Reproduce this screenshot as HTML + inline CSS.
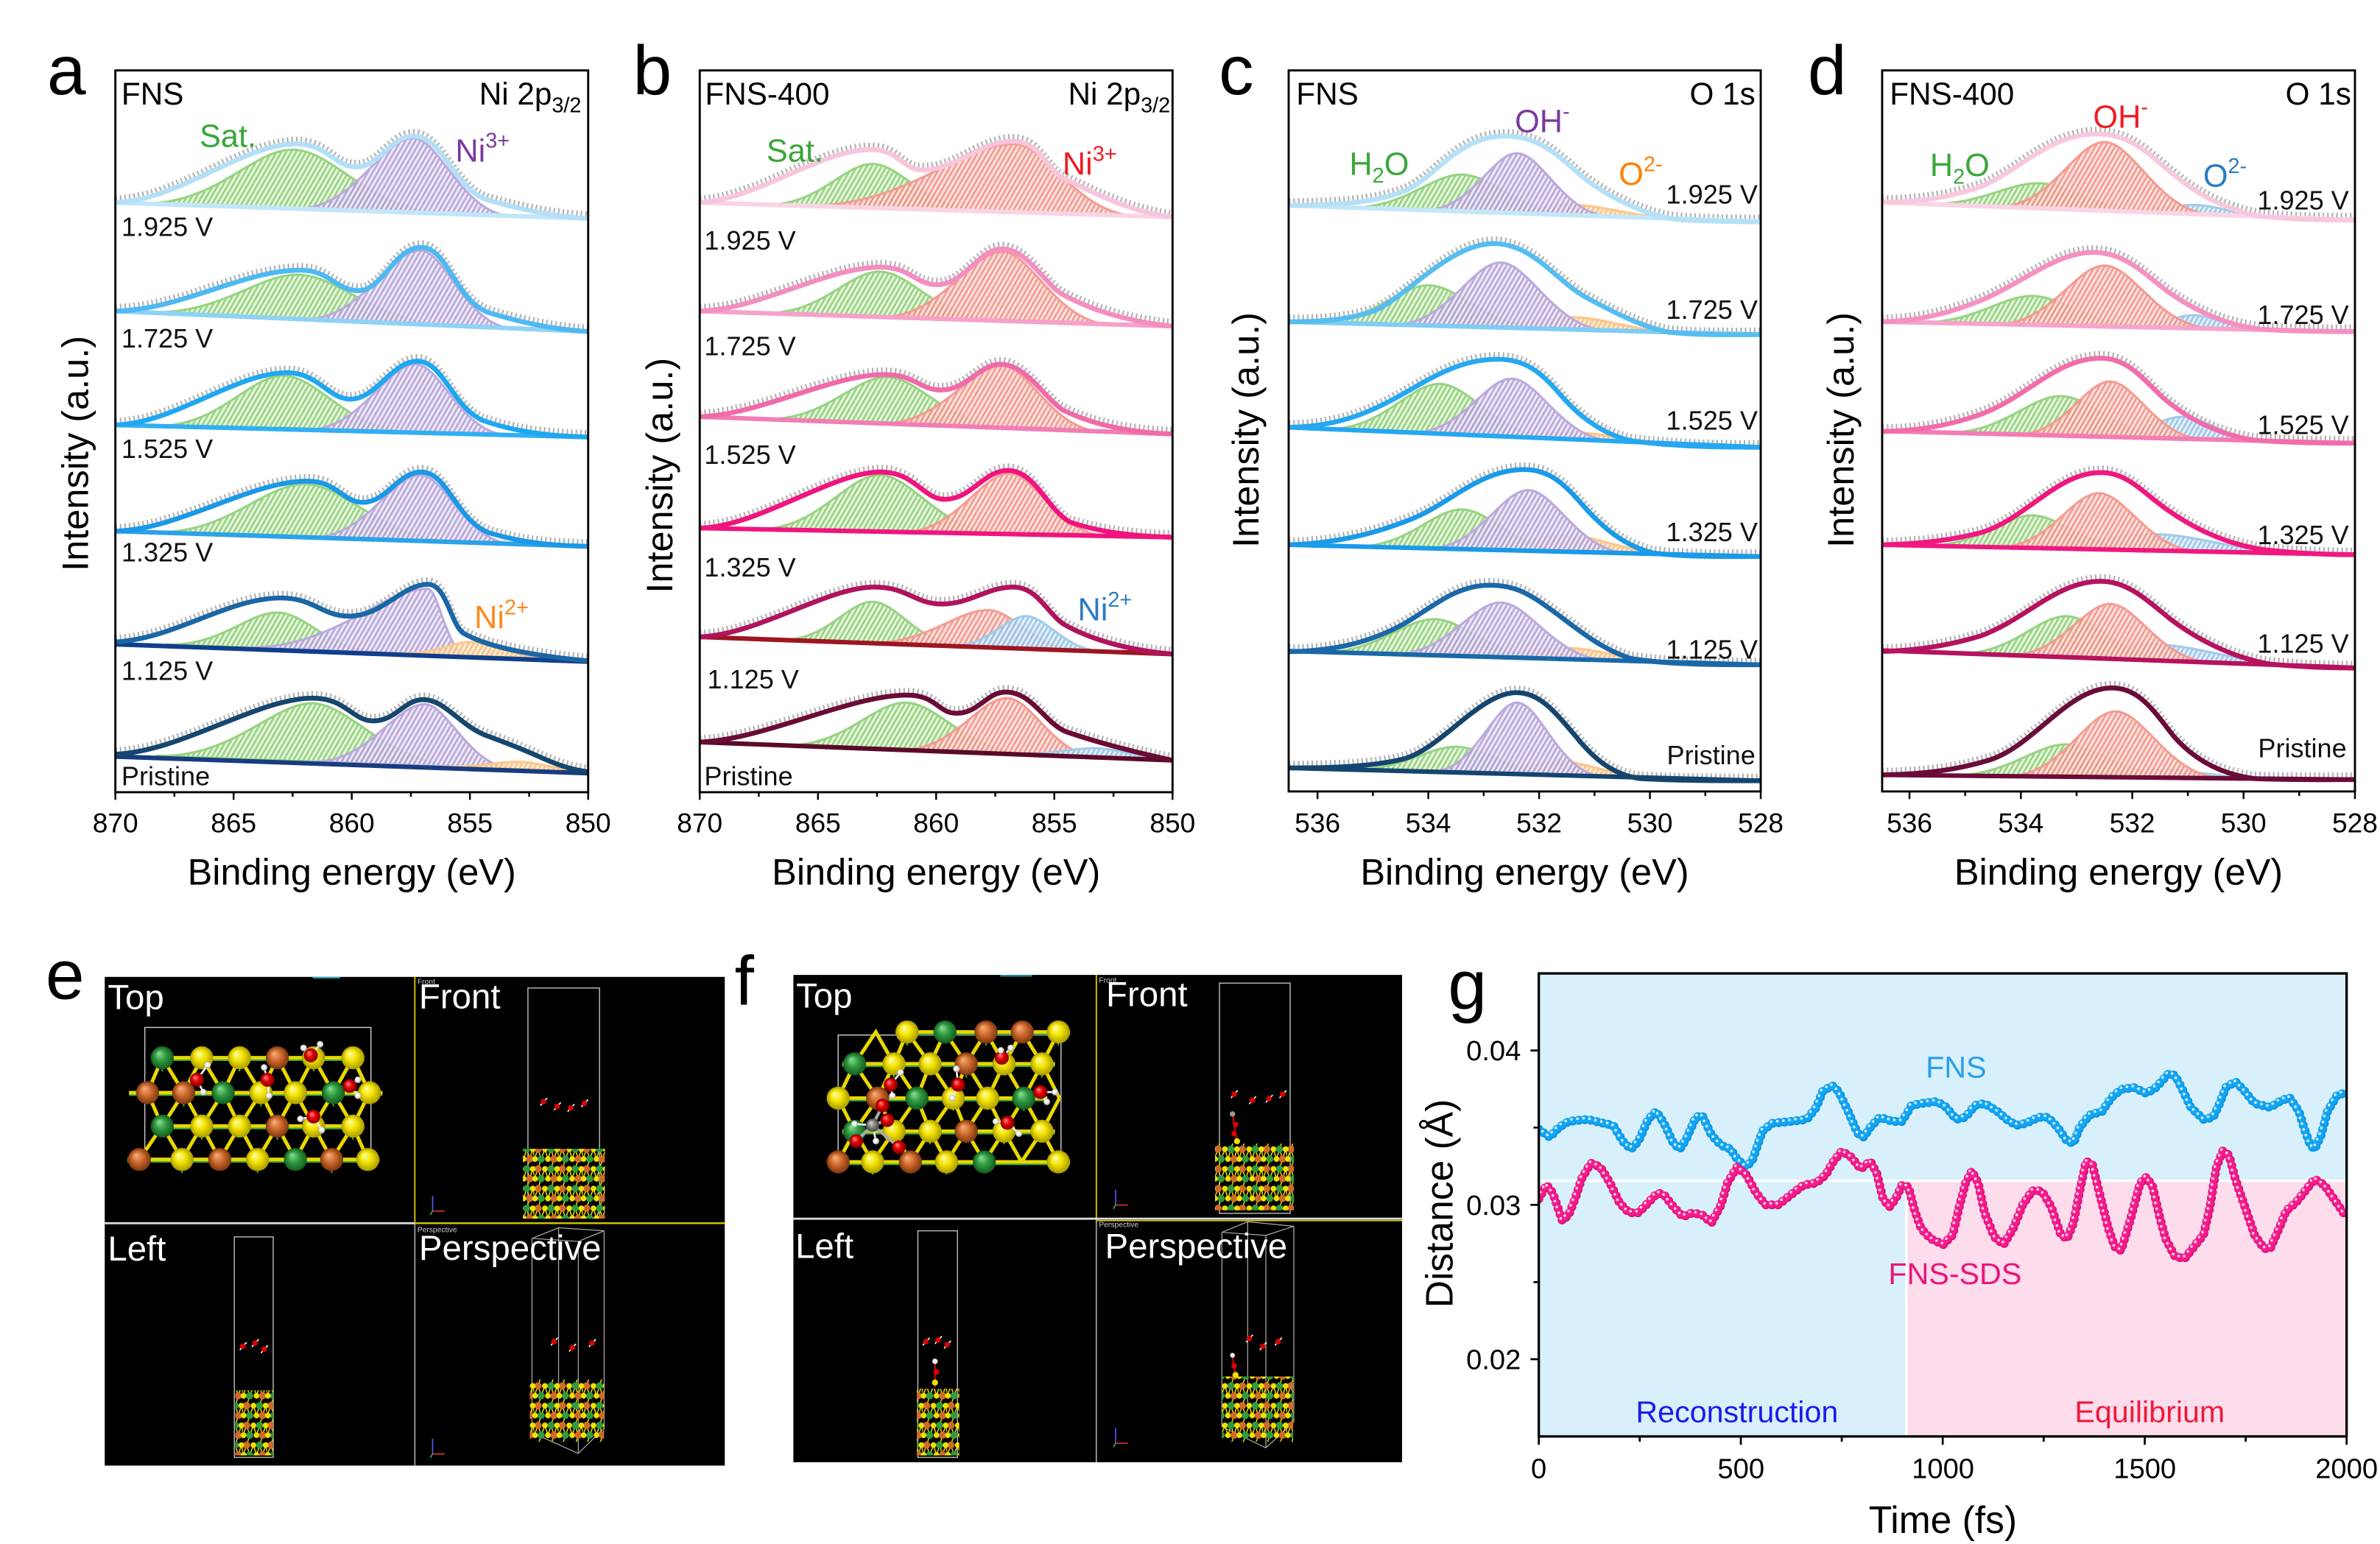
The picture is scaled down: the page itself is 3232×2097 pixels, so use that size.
<!DOCTYPE html>
<html><head><meta charset="utf-8"><title>Figure</title>
<style>
html,body{margin:0;padding:0;background:#fff;overflow:hidden}
svg{display:block}
text{font-family:"Liberation Sans",Arial,sans-serif}
.cg{fill:url(#hG);stroke:#98d383;stroke-width:1.5;fill-opacity:.9}
.cp{fill:url(#hP);stroke:#bcaadc;stroke-width:1.5;fill-opacity:.9}
.co{fill:url(#hO);stroke:#fcc68c;stroke-width:1.5;fill-opacity:.9}
.cr{fill:url(#hR);stroke:#f59b91;stroke-width:1.5;fill-opacity:.9}
.cb{fill:url(#hB);stroke:#a3cbe9;stroke-width:1.5;fill-opacity:.9}
.env{fill:none;stroke-width:3.2;stroke-linejoin:round;stroke-linecap:round}
.dt{fill:none;stroke:#b4b4b4;stroke-width:4.6;stroke-dasharray:1.1 1.9}
.bl{stroke-width:3;stroke-linecap:round}
.c1{fill:none;stroke-linecap:round;stroke-dasharray:0 4;stroke-width:5.9}
.c2{fill:none;stroke-linecap:round;stroke-dasharray:0 4;stroke-width:4.9}
.c3{fill:none;stroke-linecap:round;stroke-dasharray:0 4;stroke-width:1.7}
</style></head><body>
<svg id="fig" xmlns="http://www.w3.org/2000/svg" width="3232" height="2097" viewBox="0 0 1568 1017.37" preserveAspectRatio="none">
<defs>
<pattern id="hG" patternUnits="userSpaceOnUse" width="2.8" height="2.8" patternTransform="rotate(30)"><rect width="2.8" height="2.8" fill="#e4f4da"/><rect width="1.3" height="2.8" fill="#8bcf73"/></pattern>
<pattern id="hP" patternUnits="userSpaceOnUse" width="2.8" height="2.8" patternTransform="rotate(30)"><rect width="2.8" height="2.8" fill="#ece6f5"/><rect width="1.3" height="2.8" fill="#b19ed7"/></pattern>
<pattern id="hO" patternUnits="userSpaceOnUse" width="2.8" height="2.8" patternTransform="rotate(30)"><rect width="2.8" height="2.8" fill="#fdebd6"/><rect width="1.3" height="2.8" fill="#fbba74"/></pattern>
<pattern id="hR" patternUnits="userSpaceOnUse" width="2.8" height="2.8" patternTransform="rotate(30)"><rect width="2.8" height="2.8" fill="#fde0dc"/><rect width="1.3" height="2.8" fill="#f28f84"/></pattern>
<pattern id="hB" patternUnits="userSpaceOnUse" width="2.8" height="2.8" patternTransform="rotate(30)"><rect width="2.8" height="2.8" fill="#e0eef8"/><rect width="1.3" height="2.8" fill="#94c2e5"/></pattern>
<pattern id="slab" patternUnits="userSpaceOnUse" width="16" height="13">
<polyline points="0,9.7 2.5,3.2 4.5,9.7 7,3.2 9,9.7 11,3.2 13,9.7 15,3.2 16.5,9.7" fill="none" stroke="#e0d000" stroke-width="0.8"/>
<path d="M4.5,9.7L2.5,16.2M13,9.7L11,16.2M2.5,3.2L4.5,-3.3M11,3.2L13,-3.3" stroke="#e0d000" stroke-width="0.8"/>
<circle cx="2.5" cy="3.2" r="2.4" fill="#cf6a2c"/><circle cx="7" cy="3.2" r="1.9" fill="#f0e000"/><circle cx="11" cy="3.2" r="2.4" fill="#2f9a40"/><circle cx="15" cy="3.2" r="1.9" fill="#f0e000"/><circle cx="-1" cy="3.2" r="1.9" fill="#f0e000"/>
<circle cx="4.5" cy="9.7" r="2.4" fill="#2f9a40"/><circle cx="9" cy="9.7" r="1.9" fill="#f0e000"/><circle cx="13" cy="9.7" r="2.4" fill="#cf6a2c"/><circle cx="0.5" cy="9.7" r="1.9" fill="#f0e000"/><circle cx="16.5" cy="9.7" r="1.9" fill="#f0e000"/>
</pattern>
<radialGradient id="aG" cx="50%" cy="50%" r="50%" fx="35%" fy="30%"><stop offset="0" stop-color="#8ee09a"/><stop offset=".5" stop-color="#2f9a40"/><stop offset="1" stop-color="#145a20"/></radialGradient>
<radialGradient id="aO" cx="50%" cy="50%" r="50%" fx="35%" fy="30%"><stop offset="0" stop-color="#f6b080"/><stop offset=".5" stop-color="#cf6a2c"/><stop offset="1" stop-color="#7a3510"/></radialGradient>
<radialGradient id="aY" cx="50%" cy="50%" r="50%" fx="35%" fy="30%"><stop offset="0" stop-color="#ffffb0"/><stop offset=".5" stop-color="#f2e200"/><stop offset="1" stop-color="#a89a00"/></radialGradient>
<radialGradient id="aR" cx="50%" cy="50%" r="50%" fx="35%" fy="30%"><stop offset="0" stop-color="#ff9090"/><stop offset=".5" stop-color="#e60000"/><stop offset="1" stop-color="#800000"/></radialGradient>
<radialGradient id="aW" cx="50%" cy="50%" r="50%" fx="35%" fy="30%"><stop offset="0" stop-color="#ffffff"/><stop offset=".6" stop-color="#eeeeee"/><stop offset="1" stop-color="#a0a0a0"/></radialGradient>
<radialGradient id="aC" cx="50%" cy="50%" r="50%" fx="35%" fy="30%"><stop offset="0" stop-color="#dddddd"/><stop offset=".5" stop-color="#888888"/><stop offset="1" stop-color="#444444"/></radialGradient>
<clipPath id="cA"><rect x="76" y="46.4" width="311.5" height="475.6"/></clipPath>
<clipPath id="cB"><rect x="461" y="46.4" width="311.5" height="475.6"/></clipPath>
<clipPath id="cC"><rect x="849" y="46.4" width="311" height="475.1"/></clipPath>
<clipPath id="cD"><rect x="1240" y="46.4" width="311.5" height="475.1"/></clipPath>
<clipPath id="cG"><rect x="1013.8" y="641.4" width="532.2" height="305.1"/></clipPath>

<path id="a1" d="M76,133.5 C118,132 160,94.8 195,94.8 C216,94.8 220,110 235,110 C250,110 257,89.7 272.5,89.7 C292,89.7 300,126 322,132 C345,138.5 365,142.5 387.5,144"/>
<path id="a2" d="M76,205 C120,204 160,178 198,178 C217,178 222,191.5 236,191.5 C252,191.5 260,163 277.5,163 C295,163 300,198 322,206 C345,213 365,217 387.5,218.5"/>
<path id="a3" d="M76,280 C115,279 155,245.6 189,245.6 C210,245.6 216,263 231,263 C248,263 258,238 275,238 C292,238 298,268 318,277 C340,285 365,287.5 387.5,288"/>
<path id="a4" d="M76,350 C118,349 165,317 202.5,317 C222,317 226,331 239,331 C255,331 262,311 277.5,311 C295,311 300,342 322,351 C345,358 365,359.5 387.5,360"/>
<path id="a5" d="M76,423 C115,421 150,394 185,394 C207,394 212,406 230,406 C252,406 265,385 282,385 C294,385 297,411 305,417 C320,426 350,432 387.5,435.5"/>
<path id="a6" d="M76,497 C120,495 170,460 206,460 C228,460 232,475 246,475 C261,475 266,461 279,461 C293,461 303,478 320,484.5 C335,490 345,494 355,498.5 C365,503 375,507 387.5,508.6"/>
<path id="b1" d="M461,133.5 C500,131 540,98.6 574,98.6 C592,98.6 595,112 607.5,112 C630,112 645,93 667.5,93 C685,93 690,112 700,117 C718,126 745,140 772.5,143"/>
<path id="b2" d="M461,205 C500,204 545,176 580,176 C600,176 603,187.6 617.5,187.6 C635,187.6 645,164 660,164 C677,164 688,187 700,194 C720,205 745,212 772.5,215"/>
<path id="b3" d="M461,274.6 C500,273.5 548,246.8 582.5,246.8 C603,246.8 606,257 620,257 C637,257 645,240 659,240 C676,240 688,262 700,270 C720,280 745,285 772.5,286"/>
<path id="b4" d="M461,348 C500,347 548,311 580,311 C603,311 608,329 622.5,329 C640,329 648,310 664,310 C682,310 690,336 705,344 C725,351 750,353.5 772.5,354"/>
<path id="b5" d="M461,419.7 C500,418 545,386.8 576,386.8 C598,386.8 603,398 620,398 C640,398 650,386.8 667.5,386.8 C684,386.8 690,405 702,412 C722,423 748,429 772.5,431"/>
<path id="b6" d="M461,489 C505,487 560,458 597.5,458 C617,458 618,470 630,470 C645,470 650,456 662.5,456 C680,456 688,476 702,482 C722,489 745,495 772.5,501"/>
<path id="c1" d="M849,135.4 C880,135 905,134 925,126 C945,118 960,89.7 991.5,89.7 C1020,89.7 1032,110 1050,122 C1068,134 1090,144 1110,145 C1130,146 1145,146 1160,146.2"/>
<path id="c2" d="M849,212 C875,212 890,210 905,205 C925,197 955,160.5 984,160.5 C1010,160.5 1025,185 1045,196 C1062,205 1080,215 1100,219 C1120,221 1140,220.5 1160,220.5"/>
<path id="c3" d="M849,281.6 C880,281 900,273 920,262 C940,251 960,236.7 986.5,236.7 C1005,236.7 1015,245 1028,260 C1040,274 1055,286 1075,290.5 C1100,294 1130,294.7 1160,294.7"/>
<path id="c4" d="M849,359 C880,358 905,352 930,342 C955,332 975,309.4 1004,309.4 C1020,309.4 1030,318 1042,332 C1055,347 1070,360 1090,364.5 C1110,367 1135,366.7 1160,366.7"/>
<path id="c5" d="M849,429.4 C875,429 895,425 915,416 C940,405 955,385.6 981.5,385.6 C1000,385.6 1010,393 1025,404 C1040,415 1055,428 1075,434 C1100,438 1130,438 1160,438"/>
<path id="c6" d="M849,506 C880,506 905,505 925,500 C950,493 975,456.4 999,456.4 C1015,456.4 1025,470 1038,485 C1050,500 1062,510 1080,513 C1105,514.5 1135,514.4 1160,514.4"/>
<path id="d1" d="M1240,133.4 C1265,133 1285,130 1305,123 C1330,113 1350,88.2 1381.5,88.2 C1405,88.2 1418,104 1432,115 C1448,128 1465,138 1490,142.5 C1515,145 1535,145 1551.5,145"/>
<path id="d2" d="M1240,212 C1265,211.5 1285,206 1305,198 C1335,185 1355,166.3 1379,166.3 C1400,166.3 1412,180 1428,192 C1445,204 1465,214 1490,217 C1515,218.5 1535,218.5 1551.5,218.5"/>
<path id="d3" d="M1240,284.3 C1265,284 1285,280 1305,273 C1335,262 1355,236 1384,236 C1402,236 1412,250 1425,262 C1440,275 1460,286 1485,290 C1510,292 1535,292 1551.5,292"/>
<path id="d4" d="M1240,359 C1265,358.5 1285,356 1305,351 C1335,342 1355,311.4 1384,311.4 C1402,311.4 1412,325 1428,336 C1445,348 1465,358 1490,362 C1515,365 1535,365.5 1551.5,365.5"/>
<path id="d5" d="M1240,429.3 C1265,428.5 1285,425 1305,419 C1335,408 1355,383 1384,383 C1402,383 1415,396 1430,408 C1447,421 1470,433 1495,437.5 C1520,440 1540,440 1551.5,440.2"/>
<path id="d6" d="M1240,510.6 C1270,510 1290,507 1310,501 C1340,492 1362,453.3 1391.5,453.3 C1410,453.3 1420,470 1432,485 C1445,500 1462,510 1485,513 C1510,514 1535,513.7 1551.5,513.7"/>

<polyline id="fnsL" points="1013.8,744.1 1021,749.3 1027.2,742.8 1033.5,738.9 1046.1,737.6 1056.5,740.2 1062.8,741.5 1069.1,752 1074.5,757.2 1079.5,752 1085.8,737.6 1091.2,732.3 1096.3,740.2 1102.5,753.3 1106.7,757.2 1110.9,750.7 1117.2,736.2 1121.4,734.9 1127.6,748 1133.9,754.6 1140.2,757.2 1144.4,763.8 1150.6,769 1154.8,763.8 1161.1,745.4 1167.4,740.2 1179.9,738.9 1190.4,737.6 1196.6,729.7 1200.8,719.2 1207.1,715.3 1211.3,719.2 1217.6,732.3 1223.8,746.7 1228,749.3 1232.2,742.8 1238.5,736.2 1246.8,738.9 1253.1,738.9 1259.4,728.4 1265.7,727.1 1276.1,725.8 1282.4,729.7 1288.7,737.6 1294.9,736.2 1301.2,728.4 1307.5,727.1 1315.9,732.3 1322.1,737.6 1328.4,741.5 1334.7,740.2 1343.1,736.2 1349.3,736.2 1355.6,742.8 1361.9,752 1366.1,753.3 1370.2,742.8 1376.5,734.9 1384.9,732.3 1391.2,723.1 1397.4,717.9 1405.8,716.6 1414.2,720.5 1420.4,716.6 1428.8,707.4 1433,708.7 1437.2,716.6 1443.4,729.7 1451.8,737.6 1458.1,736.2 1462.3,727.1 1466.5,716.6 1472.7,712.7 1479,719.2 1485.3,727.1 1495.7,729.7 1502,725.8 1508.3,723.1 1514.6,732.3 1518.7,745.4 1522.1,754.6 1525,757.2 1529.2,748 1533.4,732.3 1539.7,721.8 1546,719.7"/>
<polyline id="sdsL" points="1013.8,790 1018.9,780.8 1023,786 1029.3,804.4 1033.5,800.5 1037.7,790 1041.9,776.9 1048.1,766.4 1054.4,769 1060.7,779.5 1067,792.6 1073.2,799.1 1079.5,799.1 1085.8,792.6 1092.1,786 1096.3,787.3 1102.5,795.2 1108.8,801.8 1115.1,799.1 1121.4,800.5 1127.6,805.7 1133.9,793.9 1138.1,779.5 1144.4,769 1150.6,774.2 1156.9,786 1163.2,793.9 1171.5,793.9 1179.9,787.3 1188.3,780.8 1196.6,779.5 1202.9,774.2 1207.1,766.4 1213.4,758.5 1219.7,762.5 1225.9,770.3 1232.2,765.1 1236.4,772.9 1240.6,790 1244.8,795.2 1248.9,790 1253.1,780.8 1257.3,782.1 1261.5,797.8 1265.7,809.6 1272,816.2 1280.3,820.1 1286.6,813.6 1290.8,795.2 1295,779.5 1299.1,771.6 1303.3,779.5 1307.5,799.1 1313.8,814.9 1320,820.1 1326.3,809.6 1332.6,793.9 1338.9,784.7 1345.1,784.7 1351.4,795.2 1357.7,813.6 1361.9,816.2 1366.1,805.7 1370.2,784.7 1374.4,765.1 1378.6,767.7 1382.8,784.7 1389.1,809.6 1393.2,821.4 1397.4,824 1403.7,803.1 1410,779.5 1414.2,775.6 1418.3,782.1 1422.5,800.5 1426.7,816.2 1433,828 1439.3,829.3 1445.5,821.4 1451.8,813.6 1456,795.2 1460.2,769 1464.4,758.5 1468.5,761.1 1472.7,776.9 1479,795.2 1485.3,813.6 1491.6,822.7 1495.7,822.7 1502,808.3 1506.2,797.8 1512.5,792.6 1518.7,784.7 1525,776.9 1531.3,780.8 1537.6,790 1543.9,799.1"/>
</defs>
<rect width="1568" height="1017.37" fill="#fff"/>

<!-- ================= PANEL A ================= -->
<g clip-path="url(#cA)">
<path class="cg" d="M91.7,134 C142.2,135.7 165.6,98.6 192.8,98.6 C220,98.6 243.4,139.1 293.9,140.8Z"/>
<path class="cp" d="M194.2,137.5 C233.2,138.8 251.2,91 272.2,91 C289.6,91 304.6,141.2 337,142.3Z"/>
<use href="#a1" class="dt" transform="translate(0,-2.4)"/>
<line class="bl" x1="76" y1="133.5" x2="387.5" y2="144" stroke="#c2e6f9"/>
<use href="#a1" class="env" stroke="#b3dff7"/>

<path class="cg" d="M94.8,205.8 C145.3,208 168.7,181 195.9,181 C223.1,181 246.5,212.4 297,214.6Z"/>
<path class="cp" d="M198.9,210.3 C237.9,212 255.9,165 276.9,165 C293.3,165 307.3,215 337.7,216.3Z"/>
<use href="#a2" class="dt" transform="translate(0,-2.4)"/>
<line class="bl" x1="76" y1="205" x2="387.5" y2="218.5" stroke="#8ed2f6"/>
<use href="#a2" class="env" stroke="#4db9f2"/>

<path class="cg" d="M101.6,280.7 C144.1,281.7 163.7,247.5 186.6,247.5 C209.5,247.5 229.1,283.9 271.6,285Z"/>
<path class="cp" d="M201,283.2 C237.4,284.1 254.2,240 273.8,240 C290.2,240 304.2,285.9 334.6,286.6Z"/>
<use href="#a3" class="dt" transform="translate(0,-2.4)"/>
<line class="bl" x1="76" y1="280" x2="387.5" y2="288" stroke="#30aff2"/>
<use href="#a3" class="env" stroke="#1fa7f0"/>

<path class="cg" d="M99.5,350.8 C150,352.4 173.4,319 200.6,319 C227.8,319 251.2,355.6 301.7,357.2Z"/>
<path class="cp" d="M204.1,354.1 C240.5,355.3 257.3,313 276.9,313 C293.3,313 307.3,357.4 337.7,358.4Z"/>
<use href="#a4" class="dt" transform="translate(0,-2.4)"/>
<line class="bl" x1="76" y1="350" x2="387.5" y2="360" stroke="#2ba2ea"/>
<use href="#a4" class="env" stroke="#1b98e6"/>

<path class="cg" d="M109.4,424.7 C144.9,426 163,403.6 182.5,403.6 C202,403.6 215.9,428.7 251.4,430Z"/>
<path class="cp" d="M160,426.6 C220,428.5 250,388 281.9,388 C288.9,388 294.9,431.6 307.9,432.1Z"/>
<path class="co" d="M262,430.4 C288,431.3 298,423 309,423 C322,423 338,433.1 368,434.2Z"/>
<use href="#a5" class="dt" transform="translate(0,-2.4)"/>
<line class="bl" x1="76" y1="424.5" x2="387.5" y2="436" stroke="#0f3f8c"/>
<use href="#a5" class="env" stroke="#1a66a6"/>

<path class="cg" d="M102.6,498 C153.1,499.9 180,463.4 205.3,463.4 C230.9,463.4 254.3,503.6 304.8,505.5Z"/>
<path class="cp" d="M205.7,501.8 C242.1,503.2 260,464 279.8,464 C295,464 308.9,505.7 339.3,506.8Z"/>
<path class="co" d="M290,505 C315,506 325,502 341.9,502 C355,502 368,508 393.8,508.8Z"/>
<use href="#a6" class="dt" transform="translate(0,-2.4)"/>
<line class="bl" x1="76" y1="498.5" x2="387.5" y2="509.5" stroke="#173c80"/>
<use href="#a6" class="env" stroke="#15466e"/>
</g>

<!-- ================= PANEL B ================= -->
<g clip-path="url(#cB)">
<path class="cg" d="M503.7,134.8 C539.2,135.9 555.6,108 574.7,108 C593.8,108 610.2,138 645.7,139.1Z"/>
<path class="cr" d="M526.4,135.5 C597.3,137.7 629.9,95 668.1,95 C689.9,95 708.7,141.1 749.2,142.3Z"/>
<use href="#b1" class="dt" transform="translate(0,-2.4)"/>
<line class="bl" x1="461" y1="133.5" x2="772.5" y2="143" stroke="#fad3e5"/>
<use href="#b1" class="env" stroke="#f8c5dc"/>

<path class="cg" d="M502.4,206.3 C540.9,207.6 558.7,179 579.4,179 C600.1,179 617.9,210 656.4,211.3Z"/>
<path class="cr" d="M579.3,208.8 C619.8,210.1 638.6,166 660.4,166 C679.5,166 695.9,212.5 731.4,213.7Z"/>
<use href="#b2" class="dt" transform="translate(0,-2.4)"/>
<line class="bl" x1="461" y1="205" x2="772.5" y2="215" stroke="#f6a0ca"/>
<use href="#b2" class="env" stroke="#f48dc0"/>

<path class="cg" d="M502.9,276.1 C543.4,277.6 562.2,248.5 584,248.5 C605.8,248.5 624.6,280.6 665.1,282.1Z"/>
<path class="cr" d="M579.3,279.1 C619.8,280.4 638.6,241 660.4,241 C677.8,241 692.8,283.1 725.1,284.3Z"/>
<use href="#b3" class="dt" transform="translate(0,-2.4)"/>
<line class="bl" x1="461" y1="274.6" x2="772.5" y2="286" stroke="#f27db5"/>
<use href="#b3" class="env" stroke="#f06aa9"/>

<path class="cg" d="M498.3,348.7 C538.8,349.5 557.6,313 579.4,313 C601.2,313 620,351.1 660.5,351.8Z"/>
<path class="cr" d="M594,350.6 C629.5,351.2 645.9,312 665,312 C682.4,312 697.4,352.6 729.7,353.2Z"/>
<use href="#b4" class="dt" transform="translate(0,-2.4)"/>
<line class="bl" x1="461" y1="348" x2="772.5" y2="354" stroke="#f0147e"/>
<use href="#b4" class="env" stroke="#f0147e"/>

<path class="cg" d="M513.9,421.6 C544.3,422.7 558.3,396.5 574.7,396.5 C591.1,396.5 605.1,424.9 635.5,426Z"/>
<path class="cr" d="M569.9,423.6 C610.4,425.2 629.2,402 651,402 C667.4,402 681.4,427.7 711.8,428.8Z"/>
<path class="cb" d="M625.2,425.7 C650.6,426.6 662.3,406 675.9,406 C689.5,406 701.2,428.4 726.6,429.3Z"/>
<use href="#b5" class="dt" transform="translate(0,-2.4)"/>
<line class="bl" x1="461" y1="419.7" x2="772.5" y2="431" stroke="#9c1622"/>
<use href="#b5" class="env" stroke="#b0135e"/>

<path class="cg" d="M515.4,491.1 C555.9,492.7 574.7,463 596.5,463 C618.3,463 637.1,495.8 677.6,497.3Z"/>
<path class="cr" d="M592.5,494.1 C628,495.4 644.4,460 663.5,460 C679.9,460 693.9,498 724.3,499.1Z"/>
<path class="cb" d="M660.3,496.6 C690.7,497.8 704.7,493 721.1,493 C737.5,493 751.5,500.2 781.9,501.4Z"/>
<use href="#b6" class="dt" transform="translate(0,-2.4)"/>
<line class="bl" x1="461" y1="489" x2="772.5" y2="501" stroke="#5a0a28"/>
<use href="#b6" class="env" stroke="#6a0b36"/>
</g>

<!-- ================= PANEL C ================= -->
<g clip-path="url(#cC)">
<path class="co" d="M960,139.2 C998,140.5 1015.5,135 1035.9,135 C1056.3,135 1073.9,143.1 1111.8,144.4Z"/>
<path class="cg" d="M887,136.7 C925,138 942.5,115 962.9,115 C983.3,115 1000.9,140.6 1038.8,141.9Z"/>
<path class="cp" d="M937.8,138.4 C968.6,139.5 982.8,101 999.4,101 C1016,101 1030.2,141.6 1061,142.6Z"/>
<use href="#c1" class="dt" transform="translate(0,-2.4)"/>
<line class="bl" x1="849" y1="135.4" x2="1160" y2="146" stroke="#c3e7f9"/>
<use href="#c1" class="env" stroke="#b5e1f7"/>

<path class="co" d="M960,215 C998,216.1 1015.5,209 1035.9,209 C1056.3,209 1073.9,218.2 1111.8,219.2Z"/>
<path class="cg" d="M865.1,212.4 C903,213.5 920.6,188 941,188 C961.4,188 979,215.6 1016.9,216.6Z"/>
<path class="cp" d="M917.3,213.9 C952.9,214.8 969.3,173 988.5,173 C1007.7,173 1024.1,216.8 1059.7,217.8Z"/>
<use href="#c2" class="dt" transform="translate(0,-2.4)"/>
<line class="bl" x1="849" y1="212" x2="1160" y2="220.5" stroke="#7fccf4"/>
<use href="#c2" class="env" stroke="#55bdf0"/>

<path class="co" d="M960,286.3 C998,287.9 1015.5,285 1035.9,285 C1056.3,285 1073.9,291.1 1111.8,292.7Z"/>
<path class="cg" d="M872.4,282.6 C910.3,284.2 927.9,253 948.3,253 C968.7,253 986.3,287.4 1024.2,289Z"/>
<path class="cp" d="M929.2,285 C962.5,286.4 977.9,249.5 995.8,249.5 C1013.7,249.5 1029.1,289.2 1062.4,290.6Z"/>
<use href="#c3" class="dt" transform="translate(0,-2.4)"/>
<line class="bl" x1="849" y1="281.6" x2="1160" y2="294.7" stroke="#25a8f0"/>
<use href="#c3" class="env" stroke="#25a8f0"/>

<path class="co" d="M956.4,361.7 C994.3,362.6 1011.9,352.8 1032.3,352.8 C1052.7,352.8 1070.3,364.5 1108.2,365.4Z"/>
<path class="cg" d="M891.7,360.1 C927.3,360.9 943.7,335.7 962.9,335.7 C982.1,335.7 998.5,362.7 1034.1,363.6Z"/>
<path class="cp" d="M940.1,361.3 C973.4,362.1 988.8,323 1006.7,323 C1024.6,323 1040,363.7 1073.3,364.6Z"/>
<use href="#c4" class="dt" transform="translate(0,-2.4)"/>
<line class="bl" x1="849" y1="359" x2="1160" y2="366.7" stroke="#1a9ae8"/>
<use href="#c4" class="env" stroke="#1a9ae8"/>

<path class="co" d="M956.4,432.1 C994.3,433.2 1011.9,427 1032.3,427 C1052.7,427 1070.3,435.4 1108.2,436.5Z"/>
<path class="cg" d="M868.8,429.6 C906.7,430.7 924.3,408 944.7,408 C965.1,408 982.7,432.9 1020.6,434Z"/>
<path class="cp" d="M917.3,431 C952.9,432 969.3,397 988.5,397 C1007.7,397 1024.1,434.1 1059.7,435.1Z"/>
<use href="#c5" class="dt" transform="translate(0,-2.4)"/>
<line class="bl" x1="849" y1="429" x2="1160" y2="438" stroke="#1a68a8"/>
<use href="#c5" class="env" stroke="#1a68a8"/>

<path class="co" d="M962,509.1 C995.3,510 1010.7,502 1028.6,502 C1046.5,502 1061.9,511.8 1095.2,512.7Z"/>
<path class="cg" d="M888.1,507.1 C923.7,508 940.1,492 959.3,492 C978.5,492 994.9,509.9 1030.5,510.9Z"/>
<path class="cp" d="M942.5,508.5 C970.9,509.3 984.1,463 999.4,463 C1014.7,463 1027.9,510.8 1056.3,511.6Z"/>
<use href="#c6" class="dt" transform="translate(0,-2.4)"/>
<line class="bl" x1="849" y1="506" x2="1160" y2="514.4" stroke="#14456e"/>
<use href="#c6" class="env" stroke="#14456e"/>
</g>

<!-- ================= PANEL D ================= -->
<g clip-path="url(#cD)">
<path class="cb" d="M1387.9,138.9 C1416.5,140 1429.7,135 1445.1,135 C1460.5,135 1473.7,142.1 1502.3,143.2Z"/>
<path class="cg" d="M1266,134.4 C1304.2,135.8 1321.8,120.7 1342.4,120.7 C1363,120.7 1380.6,138.6 1418.8,140.1Z"/>
<path class="cr" d="M1314.9,136.2 C1350.7,137.5 1367.2,93.6 1386.4,93.6 C1405.7,93.6 1422.2,140.2 1457.9,141.5Z"/>
<use href="#d1" class="dt" transform="translate(0,-2.4)"/>
<line class="bl" x1="1240" y1="133.4" x2="1551.5" y2="145" stroke="#fad4e6"/>
<use href="#d1" class="env" stroke="#f8c8de"/>

<path class="cb" d="M1397.5,215.3 C1421.3,215.8 1432.3,207.7 1445.1,207.7 C1457.9,207.7 1468.9,216.8 1492.7,217.3Z"/>
<path class="cg" d="M1262.3,212.5 C1300.5,213.3 1318.1,195 1338.7,195 C1359.3,195 1376.9,214.9 1415.1,215.7Z"/>
<path class="cr" d="M1314.9,213.6 C1350.7,214.3 1367.2,175 1386.4,175 C1405.7,175 1422.2,215.8 1457.9,216.5Z"/>
<use href="#d2" class="dt" transform="translate(0,-2.4)"/>
<line class="bl" x1="1240" y1="212" x2="1551.5" y2="218.5" stroke="#f7a3cc"/>
<use href="#d2" class="env" stroke="#f590c2"/>

<path class="cb" d="M1380.6,287.6 C1409.2,288.3 1422.4,274.6 1437.8,274.6 C1453.2,274.6 1466.4,289.8 1495,290.5Z"/>
<path class="cg" d="M1281,285.1 C1319.2,286 1336.8,261 1357.4,261 C1378,261 1395.6,288 1433.8,289Z"/>
<path class="cr" d="M1328.2,286.3 C1359.2,287.1 1373.4,251.4 1390.1,251.4 C1406.8,251.4 1421,288.6 1452,289.4Z"/>
<use href="#d3" class="dt" transform="translate(0,-2.4)"/>
<line class="bl" x1="1240" y1="284" x2="1551.5" y2="292" stroke="#f47cb4"/>
<use href="#d3" class="env" stroke="#f26cab"/>

<path class="cb" d="M1314.4,360.6 C1366.9,361.6 1391.1,352 1419.4,352 C1447.7,352 1471.9,363.8 1524.4,364.9Z"/>
<path class="cg" d="M1267.2,359.6 C1303,360.3 1319.5,339.6 1338.7,339.6 C1357.9,339.6 1374.5,361.8 1410.2,362.5Z"/>
<path class="cr" d="M1315.9,360.6 C1349.3,361.3 1364.7,325 1382.7,325 C1400.7,325 1416.1,362.8 1449.5,363.4Z"/>
<use href="#d4" class="dt" transform="translate(0,-2.4)"/>
<line class="bl" x1="1240" y1="359" x2="1551.5" y2="365.5" stroke="#f0187f"/>
<use href="#d4" class="env" stroke="#f0187f"/>

<path class="cb" d="M1314.4,431.3 C1366.9,433.2 1391.1,424.7 1419.4,424.7 C1447.7,424.7 1471.9,437.1 1524.4,439Z"/>
<path class="cg" d="M1289.5,430.4 C1325.3,431.7 1341.8,406 1361,406 C1380.3,406 1396.8,434.3 1432.5,435.6Z"/>
<path class="cr" d="M1323.3,431.6 C1356.7,432.9 1372.1,398 1390.1,398 C1408.1,398 1423.5,435.3 1456.9,436.5Z"/>
<use href="#d5" class="dt" transform="translate(0,-2.4)"/>
<line class="bl" x1="1240" y1="428.6" x2="1551.5" y2="440" stroke="#b5125f"/>
<use href="#d5" class="env" stroke="#b5125f"/>

<path class="cb" d="M1346.7,511.7 C1384.9,512 1402.5,507 1423.1,507 C1443.7,507 1461.3,512.8 1499.5,513.2Z"/>
<path class="cg" d="M1284.6,511 C1322.8,511.4 1340.4,490.5 1361,490.5 C1381.6,490.5 1399.2,512.2 1437.4,512.6Z"/>
<path class="cr" d="M1322.2,511.4 C1358,511.8 1374.5,468.8 1393.7,468.8 C1412.9,468.8 1429.5,512.5 1465.2,512.8Z"/>
<use href="#d6" class="dt" transform="translate(0,-2.4)"/>
<line class="bl" x1="1240" y1="510.6" x2="1551.5" y2="513.7" stroke="#6b0b38"/>
<use href="#d6" class="env" stroke="#6b0b38"/>
</g>

<!-- XPS frames & ticks -->
<g fill="none" stroke="#000" stroke-width="1.4">
<rect x="76" y="46.4" width="311.5" height="475.6"/>
<rect x="461" y="46.4" width="311.5" height="475.6"/>
<rect x="849" y="46.4" width="311" height="475.1"/>
<rect x="1240" y="46.4" width="311.5" height="475.1"/>
</g>
<g stroke="#000" stroke-width="1.2" fill="none">
<path d="M76,522v5M153.9,522v5M231.75,522v5M309.6,522v5M387.5,522v5M114.9,522v3M192.8,522v3M270.7,522v3M348.6,522v3"/>
<path d="M461,522v5M538.9,522v5M616.75,522v5M694.6,522v5M772.5,522v5M499.9,522v3M577.8,522v3M655.7,522v3M733.6,522v3"/>
<path d="M868,521.5v5M941,521.5v5M1014,521.5v5M1087,521.5v5M1160,521.5v5M904.5,521.5v3M977.5,521.5v3M1050.5,521.5v3M1123.5,521.5v3"/>
<path d="M1258,521.5v5M1331.4,521.5v5M1404.8,521.5v5M1478.1,521.5v5M1551.5,521.5v5M1294.7,521.5v3M1368.1,521.5v3M1441.4,521.5v3M1514.8,521.5v3"/>
</g>

<!-- ================= PANEL E ================= -->
<rect x="69" y="643.7" width="408.5" height="322" fill="#000"/>
<line x1="206" y1="644.3" x2="224" y2="644.3" stroke="#1aa0b0" stroke-width="1"/>
<line x1="273.3" y1="643.7" x2="273.3" y2="806" stroke="#d8c800" stroke-width="0.9"/>
<line x1="273.3" y1="806" x2="273.3" y2="965.6" stroke="#9a9a9a" stroke-width="0.9"/>
<line x1="69" y1="806" x2="273.3" y2="806" stroke="#d9d9d9" stroke-width="1.4"/>
<line x1="273.3" y1="806" x2="477.5" y2="806" stroke="#d8c800" stroke-width="1.2"/>
<rect x="95.4" y="677" width="149" height="87" fill="none" stroke="#c8c8c8" stroke-width="0.7"/>
<g stroke="#e8d800" stroke-width="2.4" fill="none">
<polyline points="97.2,720 106.9,697 121,720 132.9,697 147,720 157.8,697 171.9,720 182.7,697 194.6,720 206.6,697 219.6,720 232.5,697 243.4,720"/>
<polyline points="97.2,720 106.9,742 121,720 132.9,742 147,720 157.8,742 171.9,720 182.7,742 194.6,720 206.6,742 219.6,720 232.5,742 243.4,720"/>
<polyline points="91.8,764 106.9,742 119.9,764 132.9,742 144.8,764 157.8,742 169.7,764 182.7,742 194.6,764 206.6,742 218.5,764 232.5,742 242.3,764"/>
<path d="M100,697H240M85,720H252M100,742H240M84,764H250"/>
</g>
<g stroke="#3aa848" stroke-width="1" fill="none">
<path d="M100,698.6H240M85,721.6H252M100,743.6H240M84,765.6H250"/>
<path d="M106.9,690v16M157.8,690v16M206.6,690v16M121,713v16M171.9,713v16M219.6,713v16M132.9,735v16M182.7,735v16M232.5,735v16M119.9,757v16M169.7,757v16M218.5,757v16"/>
</g>
<g>
<circle cx="106.9" cy="697" r="7.6" fill="url(#aG)"/><circle cx="132.9" cy="697" r="7.6" fill="url(#aY)"/><circle cx="157.8" cy="697" r="7.6" fill="url(#aY)"/><circle cx="182.7" cy="697" r="7.6" fill="url(#aO)"/><circle cx="206.6" cy="697" r="7.6" fill="url(#aY)"/><circle cx="232.5" cy="697" r="7.6" fill="url(#aY)"/>
<circle cx="97.2" cy="720" r="7.6" fill="url(#aO)"/><circle cx="121" cy="720" r="7.6" fill="url(#aO)"/><circle cx="147" cy="720" r="7.6" fill="url(#aG)"/><circle cx="171.9" cy="720" r="7.6" fill="url(#aY)"/><circle cx="194.6" cy="720" r="7.6" fill="url(#aY)"/><circle cx="219.6" cy="720" r="7.6" fill="url(#aG)"/><circle cx="243.4" cy="720" r="7.6" fill="url(#aY)"/>
<circle cx="106.9" cy="742" r="7.6" fill="url(#aG)"/><circle cx="132.9" cy="742" r="7.6" fill="url(#aY)"/><circle cx="157.8" cy="742" r="7.6" fill="url(#aY)"/><circle cx="182.7" cy="742" r="7.6" fill="url(#aO)"/><circle cx="206.6" cy="742" r="7.6" fill="url(#aY)"/><circle cx="232.5" cy="742" r="7.6" fill="url(#aY)"/>
<circle cx="91.8" cy="764" r="7.6" fill="url(#aO)"/><circle cx="119.9" cy="764" r="7.6" fill="url(#aY)"/><circle cx="144.8" cy="764" r="7.6" fill="url(#aO)"/><circle cx="169.7" cy="764" r="7.6" fill="url(#aY)"/><circle cx="194.6" cy="764" r="7.6" fill="url(#aG)"/><circle cx="218.5" cy="764" r="7.6" fill="url(#aO)"/><circle cx="242.3" cy="764" r="7.6" fill="url(#aY)"/>
</g>
<g stroke="#eeeeee" stroke-width="1.3">
<path d="M129.7,711.5L136.8,701.8M129.7,711.5L134,719.6M176.2,711.5L174,703.4M176.2,711.5L177.3,722M204.8,695.4L210.9,688.1M204.8,695.4L200,690.5M230.4,715.6L235.8,711.5M230.4,715.6L235.8,722M206.5,735.7L197.9,737.3M206.5,735.7L212,744.6"/>
</g>
<g>
<circle cx="129.7" cy="711.5" r="4.6" fill="url(#aR)"/><circle cx="176.2" cy="711.5" r="4.6" fill="url(#aR)"/><circle cx="204.8" cy="695.4" r="4.6" fill="url(#aR)"/><circle cx="230.4" cy="715.6" r="4.6" fill="url(#aR)"/><circle cx="206.5" cy="735.7" r="4.6" fill="url(#aR)"/>
<circle cx="136.8" cy="701.8" r="2.2" fill="url(#aW)"/><circle cx="134" cy="719.6" r="2.2" fill="url(#aW)"/><circle cx="174" cy="703.4" r="2.2" fill="url(#aW)"/><circle cx="177.3" cy="722" r="2.2" fill="url(#aW)"/><circle cx="210.9" cy="688.1" r="2.2" fill="url(#aW)"/><circle cx="200" cy="690.5" r="2.2" fill="url(#aW)"/><circle cx="235.8" cy="711.5" r="2.2" fill="url(#aW)"/><circle cx="235.8" cy="722" r="2.2" fill="url(#aW)"/><circle cx="197.9" cy="737.3" r="2.2" fill="url(#aW)"/><circle cx="212" cy="744.6" r="2.2" fill="url(#aW)"/>
</g>
<rect x="347.8" y="651" width="47.2" height="151.5" fill="none" stroke="#b8b8b8" stroke-width="0.7"/>
<rect x="344.5" y="757" width="54" height="46" fill="url(#slab)"/>
<rect x="154.4" y="815" width="25.6" height="145.3" fill="none" stroke="#b8b8b8" stroke-width="0.7"/>
<rect x="155" y="916" width="25" height="43" fill="url(#slab)"/>
<g fill="none" stroke="#aaaaaa" stroke-width="0.6">
<polyline points="350.5,816 350.5,944 381,957.7 398,941 398,811"/>
<polyline points="350.5,816 381,818 398,811 368,809 350.5,816"/>
<line x1="381" y1="818" x2="381" y2="957.7"/>
<line x1="368" y1="809" x2="368" y2="930"/>
</g>
<rect x="349" y="909" width="49" height="41" fill="url(#slab)"/>
<g stroke="#fff" stroke-width="0.8">
<path d="M358,726l2.5,-2.5M358,726l-2,2.5M367,729l2.5,-2.5M367,729l-2,2.5M376,730l2.5,-2.5M376,730l-2,2.5M385,727l2.5,-2.5M385,727l-2,2.5"/>
<path d="M160,887l2.5,-2.5M160,887l-2,2.5M168,885l2.5,-2.5M168,885l-2,2.5M174,889l2.5,-2.5M174,889l-2,2.5"/>
<path d="M365,884l2.5,-2.5M365,884l-2,2.5M377,888l2.5,-2.5M377,888l-2,2.5M390,885l2.5,-2.5M390,885l-2,2.5"/>
</g>
<g fill="#e00000">
<circle cx="358" cy="726" r="1.8"/><circle cx="367" cy="729" r="1.8"/><circle cx="376" cy="730" r="1.8"/><circle cx="385" cy="727" r="1.8"/>
<circle cx="160" cy="887" r="1.8"/><circle cx="168" cy="885" r="1.8"/><circle cx="174" cy="889" r="1.8"/>
<circle cx="365" cy="884" r="1.8"/><circle cx="377" cy="888" r="1.8"/><circle cx="390" cy="885" r="1.8"/>
</g>
<g stroke-width="0.8">
<path d="M285,798v-10" stroke="#5a5aff"/><path d="M285,798h8" stroke="#e03030"/><path d="M285,798l-1.5,2.5" stroke="#30c030"/>
<path d="M285,958v-10" stroke="#5a5aff"/><path d="M285,958h8" stroke="#e03030"/><path d="M285,958l-1.5,2.5" stroke="#30c030"/>
</g>

<!-- ================= PANEL F ================= -->
<rect x="522.7" y="642.4" width="401" height="321.1" fill="#000"/>
<line x1="659" y1="643" x2="680" y2="643" stroke="#1aa0b0" stroke-width="1"/>
<line x1="722.3" y1="642.4" x2="722.3" y2="803" stroke="#d8c800" stroke-width="0.9"/>
<line x1="722.3" y1="803" x2="722.3" y2="963.5" stroke="#9a9a9a" stroke-width="0.9"/>
<line x1="522.7" y1="803" x2="923.7" y2="803" stroke="#d9d9d9" stroke-width="1.4"/>
<line x1="722.3" y1="804.3" x2="923.7" y2="804.3" stroke="#d8c800" stroke-width="0.8"/>
<rect x="552.2" y="682" width="146.8" height="83.6" fill="none" stroke="#c8c8c8" stroke-width="0.7"/>
<g stroke="#e8d800" stroke-width="2.4" fill="none">
<polyline points="563,701 577,680 589,701 597.6,680 612.8,701 622.6,680 636.6,701 649.6,680 661.5,701 673.5,680 686.5,701 697.3,680"/>
<polyline points="552.2,723.6 563,701 578.2,723.6 589,701 604.1,723.6 612.8,701 628,723.6 636.6,701 650.7,723.6 661.5,701 674.5,723.6 686.5,701 698,723.6"/>
<polyline points="552.2,723.6 563,745.4 578.2,723.6 589,745.4 604.1,723.6 612.8,745.4 628,723.6 636.6,745.4 650.7,723.6 661.5,745.4 674.5,723.6 686.5,745.4 698,723.6"/>
<polyline points="552.2,765.6 563,745.4 574.9,765.6 589,745.4 599.8,765.6 612.8,745.4 623.6,765.6 636.6,745.4 648.5,765.6 661.5,745.4 673,765.6 686.5,745.4 697.3,765.6"/>
<path d="M590,680H705M555,701H695M545,723.6H690M555,745.4H695M545,765.6H705"/>
</g>
<g stroke="#3aa848" stroke-width="1" fill="none">
<path d="M590,681.6H705M555,702.6H695M545,725.2H690M555,747H695M545,767.2H705"/>
<path d="M597.6,673v16M649.6,673v16M697.3,673v16M589,694v16M636.6,694v16M686.5,694v16M578.2,716v16M628,716v16M674.5,716v16M612.8,738v16M661.5,738v16M574.9,758v16M623.6,758v16"/>
</g>
<g>
<circle cx="597.6" cy="680" r="7.6" fill="url(#aY)"/><circle cx="622.6" cy="680" r="7.6" fill="url(#aG)"/><circle cx="649.6" cy="680" r="7.6" fill="url(#aO)"/><circle cx="673.5" cy="680" r="7.6" fill="url(#aO)"/><circle cx="697.3" cy="680" r="7.6" fill="url(#aY)"/>
<circle cx="563" cy="701" r="7.6" fill="url(#aG)"/><circle cx="589" cy="701" r="7.6" fill="url(#aY)"/><circle cx="612.8" cy="701" r="7.6" fill="url(#aY)"/><circle cx="636.6" cy="701" r="7.6" fill="url(#aO)"/><circle cx="661.5" cy="701" r="7.6" fill="url(#aY)"/><circle cx="686.5" cy="701" r="7.6" fill="url(#aY)"/>
<circle cx="552.2" cy="723.6" r="7.6" fill="url(#aY)"/><circle cx="578.2" cy="723.6" r="7.6" fill="url(#aO)"/><circle cx="604.1" cy="723.6" r="7.6" fill="url(#aG)"/><circle cx="628" cy="723.6" r="7.6" fill="url(#aY)"/><circle cx="650.7" cy="723.6" r="7.6" fill="url(#aY)"/><circle cx="674.5" cy="723.6" r="7.6" fill="url(#aG)"/>
<circle cx="563" cy="745.4" r="7.6" fill="url(#aG)"/><circle cx="589" cy="745.4" r="7.6" fill="url(#aY)"/><circle cx="612.8" cy="745.4" r="7.6" fill="url(#aY)"/><circle cx="636.6" cy="745.4" r="7.6" fill="url(#aO)"/><circle cx="661.5" cy="745.4" r="7.6" fill="url(#aY)"/><circle cx="686.5" cy="745.4" r="7.6" fill="url(#aY)"/>
<circle cx="552.2" cy="765.6" r="7.6" fill="url(#aO)"/><circle cx="574.9" cy="765.6" r="7.6" fill="url(#aY)"/><circle cx="599.8" cy="765.6" r="7.6" fill="url(#aO)"/><circle cx="623.6" cy="765.6" r="7.6" fill="url(#aY)"/><circle cx="648.5" cy="765.6" r="7.6" fill="url(#aG)"/><circle cx="697.3" cy="765.6" r="7.6" fill="url(#aY)"/>
</g>
<g stroke="#eeeeee" stroke-width="1.3">
<path d="M586.8,714.7L593.3,706.7M586.8,714.7L587.9,722M631.2,714.7L630.1,704.3M631.2,714.7L627.5,723.6M660,697L659.4,692.1M660,697L665.9,690.5M685.4,719.6L695.1,719.6M685.4,719.6L689.7,726M663.7,739.8L656.1,739M663.7,739.8L671.3,747"/>
<path d="M574.9,741.4L563,740.6M574.9,741.4L577.1,751.9"/>
</g>
<g stroke="#aaaaaa" stroke-width="2">
<path d="M574.9,741.4L581.4,728.5M574.9,741.4L584.6,738.1M574.9,741.4L564.1,751.9M574.9,741.4L592.2,755.9"/>
</g>
<g>
<circle cx="574.9" cy="741.4" r="4.4" fill="url(#aC)"/>
<circle cx="581.4" cy="728.5" r="4.5" fill="url(#aR)"/><circle cx="584.6" cy="738.1" r="4.5" fill="url(#aR)"/><circle cx="564.1" cy="751.9" r="4.5" fill="url(#aR)"/><circle cx="592.2" cy="755.9" r="4.5" fill="url(#aR)"/>
<circle cx="586.8" cy="714.7" r="4.6" fill="url(#aR)"/><circle cx="631.2" cy="714.7" r="4.6" fill="url(#aR)"/><circle cx="660" cy="697" r="4.6" fill="url(#aR)"/><circle cx="685.4" cy="719.6" r="4.6" fill="url(#aR)"/><circle cx="663.7" cy="739.8" r="4.6" fill="url(#aR)"/>
<circle cx="593.3" cy="706.7" r="2.2" fill="url(#aW)"/><circle cx="587.9" cy="722" r="2.2" fill="url(#aW)"/><circle cx="630.1" cy="704.3" r="2.2" fill="url(#aW)"/><circle cx="627.5" cy="723.6" r="2.2" fill="url(#aW)"/><circle cx="659.4" cy="692.1" r="2.2" fill="url(#aW)"/><circle cx="665.9" cy="690.5" r="2.2" fill="url(#aW)"/><circle cx="695.1" cy="719.6" r="2.2" fill="url(#aW)"/><circle cx="689.7" cy="726" r="2.2" fill="url(#aW)"/><circle cx="656.1" cy="739" r="2.2" fill="url(#aW)"/><circle cx="671.3" cy="747" r="2.2" fill="url(#aW)"/>
<circle cx="563" cy="740.6" r="2.2" fill="url(#aW)"/><circle cx="577.1" cy="751.9" r="2.2" fill="url(#aW)"/>
</g>
<rect x="803.4" y="647.8" width="46.6" height="151.7" fill="none" stroke="#b8b8b8" stroke-width="0.7"/>
<rect x="800.5" y="753.5" width="52" height="44" fill="url(#slab)"/>
<rect x="604.7" y="811" width="26.1" height="149.3" fill="none" stroke="#b8b8b8" stroke-width="0.7"/>
<rect x="604" y="915" width="28" height="44" fill="url(#slab)"/>
<g fill="none" stroke="#aaaaaa" stroke-width="0.6">
<polyline points="805,812 805,940 834,954 852.4,937 852.4,808"/>
<polyline points="805,812 834,814 852.4,808 822,805 805,812"/>
<line x1="834" y1="814" x2="834" y2="954"/>
<line x1="822" y1="805" x2="822" y2="926"/>
</g>
<rect x="805" y="907" width="47" height="43" fill="url(#slab)"/>
<g stroke="#fff" stroke-width="0.8">
<path d="M813,721l2.5,-2.5M813,721l-2,2.5M825,725l2.5,-2.5M825,725l-2,2.5M836,724l2.5,-2.5M836,724l-2,2.5M845,721l2.5,-2.5M845,721l-2,2.5"/>
<path d="M610,884l2.5,-2.5M610,884l-2,2.5M618,883l2.5,-2.5M618,883l-2,2.5M624,886l2.5,-2.5M624,886l-2,2.5"/>
<path d="M823,882l2.5,-2.5M823,882l-2,2.5M832,887l2.5,-2.5M832,887l-2,2.5M842,884l2.5,-2.5M842,884l-2,2.5"/>
</g>
<g stroke="#e00000" stroke-width="1">
<path d="M812,734L815,753M616,896L616,914M812,893L814,907"/>
</g>
<g>
<circle cx="813" cy="721" r="1.8" fill="#e00000"/><circle cx="825" cy="725" r="1.8" fill="#e00000"/><circle cx="836" cy="724" r="1.8" fill="#e00000"/><circle cx="845" cy="721" r="1.8" fill="#e00000"/>
<circle cx="610" cy="884" r="1.8" fill="#e00000"/><circle cx="618" cy="883" r="1.8" fill="#e00000"/><circle cx="624" cy="886" r="1.8" fill="#e00000"/>
<circle cx="823" cy="882" r="1.8" fill="#e00000"/><circle cx="832" cy="887" r="1.8" fill="#e00000"/><circle cx="842" cy="884" r="1.8" fill="#e00000"/>
<circle cx="812" cy="734" r="1.8" fill="#999"/><circle cx="814" cy="741" r="1.8" fill="#e00000"/><circle cx="813" cy="747" r="1.8" fill="#e00000"/><circle cx="815" cy="752" r="2" fill="#efe000"/>
<circle cx="616" cy="897" r="1.8" fill="#eee"/><circle cx="617" cy="904" r="1.8" fill="#e00000"/><circle cx="616" cy="911" r="2" fill="#efe000"/>
<circle cx="812" cy="893" r="1.6" fill="#eee"/><circle cx="813" cy="900" r="1.8" fill="#e00000"/><circle cx="814" cy="906" r="2" fill="#efe000"/>
</g>
<g stroke-width="0.8">
<path d="M735,794v-10" stroke="#5a5aff"/><path d="M735,794h8" stroke="#e03030"/><path d="M735,794l-1.5,2.5" stroke="#30c030"/>
<path d="M735,951v-10" stroke="#5a5aff"/><path d="M735,951h8" stroke="#e03030"/><path d="M735,951l-1.5,2.5" stroke="#30c030"/>
</g>

<!-- ================= PANEL G ================= -->
<rect x="1013.8" y="641.4" width="532.2" height="305.1" fill="#d8f0fb"/>
<rect x="1256" y="778" width="290" height="168.5" fill="#fddcec"/>
<line x1="1013.8" y1="778" x2="1546" y2="778" stroke="#fff" stroke-width="1.6"/>
<line x1="1256" y1="778" x2="1256" y2="946.5" stroke="#fff" stroke-width="1.6"/>
<g clip-path="url(#cG)">
<use href="#fnsL" fill="none" stroke="#0c9ae8" stroke-width="3.2" stroke-linejoin="round"/>
<use href="#fnsL" class="c1" stroke="#0a8fdc"/>
<use href="#fnsL" class="c2" stroke="#12a6f4" transform="translate(-0.3,-0.3)"/>
<use href="#fnsL" class="c3" stroke="#e6f6ff" transform="translate(-0.9,-1)"/>
<use href="#sdsL" fill="none" stroke="#e8157e" stroke-width="3.2" stroke-linejoin="round"/>
<use href="#sdsL" class="c1" stroke="#d80f74"/>
<use href="#sdsL" class="c2" stroke="#f51c8c" transform="translate(-0.3,-0.3)"/>
<use href="#sdsL" class="c3" stroke="#ffe2f0" transform="translate(-0.9,-1)"/>
</g>
<rect x="1013.8" y="641.4" width="532.2" height="305.1" fill="none" stroke="#000" stroke-width="1.6"/>
<g stroke="#000" stroke-width="1.3" fill="none">
<path d="M1013.8,946.5v5.5M1146.9,946.5v5.5M1279.9,946.5v5.5M1413,946.5v5.5M1546,946.5v5.5M1080.3,946.5v3.5M1213.4,946.5v3.5M1346.4,946.5v3.5M1479.5,946.5v3.5"/>
<path d="M1013.8,692.2h-5.5M1013.8,793.9h-5.5M1013.8,895.6h-5.5M1013.8,743h-3.5M1013.8,844.8h-3.5"/>
</g>

<!-- panel letters -->
<g font-size="46" fill="#000">
<text x="31" y="62">a</text>
<text x="417" y="62">b</text>
<text x="803" y="62">c</text>
<text x="1191" y="62">d</text>
<text x="30" y="658">e</text>
<text x="484" y="662">f</text>
<text x="954" y="665">g</text>
</g>

<!-- headers -->
<g font-size="20.5" fill="#000">
<text x="80" y="69">FNS</text>
<text x="383" y="69" text-anchor="end">Ni 2p<tspan font-size="14" dy="5">3/2</tspan></text>
<text x="464.5" y="69">FNS-400</text>
<text x="771" y="69" text-anchor="end">Ni 2p<tspan font-size="14" dy="5">3/2</tspan></text>
<text x="854" y="69">FNS</text>
<text x="1156.5" y="69" text-anchor="end">O 1s</text>
<text x="1245" y="69">FNS-400</text>
<text x="1549" y="69" text-anchor="end">O 1s</text>
</g>

<!-- voltage labels -->
<g font-size="17.5" fill="#111">
<text x="80" y="155.5">1.925 V</text>
<text x="80" y="229">1.725 V</text>
<text x="80" y="301.7">1.525 V</text>
<text x="80" y="370">1.325 V</text>
<text x="80" y="448">1.125 V</text>
<text x="80" y="517.5">Pristine</text>
<text x="464" y="164.4">1.925 V</text>
<text x="464" y="234">1.725 V</text>
<text x="464" y="305.6">1.525 V</text>
<text x="464" y="380">1.325 V</text>
<text x="466" y="453.7">1.125 V</text>
<text x="464" y="517.5">Pristine</text>
<g text-anchor="end">
<text x="1158" y="134.2">1.925 V</text>
<text x="1158" y="210">1.725 V</text>
<text x="1158" y="283">1.525 V</text>
<text x="1158" y="356.6">1.325 V</text>
<text x="1158" y="434">1.125 V</text>
<text x="1156.5" y="503.6">Pristine</text>
<text x="1547.5" y="138">1.925 V</text>
<text x="1547.5" y="213.5">1.725 V</text>
<text x="1547.5" y="286">1.525 V</text>
<text x="1547.5" y="358.6">1.325 V</text>
<text x="1547.5" y="430">1.125 V</text>
<text x="1546" y="499">Pristine</text>
</g>
</g>

<!-- component labels -->
<g font-size="21">
<text x="131.5" y="96.7" fill="#3aa63a">Sat.</text>
<text x="300" y="106.4" fill="#7a3b9e">Ni<tspan font-size="14" dy="-9">3+</tspan></text>
<text x="312.5" y="413.9" fill="#ff8a1c">Ni<tspan font-size="14" dy="-9">2+</tspan></text>
<text x="505" y="106.4" fill="#3aa63a">Sat.</text>
<text x="700" y="114.9" fill="#ee1c25">Ni<tspan font-size="14" dy="-9">3+</tspan></text>
<text x="710" y="408.8" fill="#2b7bbf">Ni<tspan font-size="14" dy="-9">2+</tspan></text>
<text x="889" y="115.3" fill="#3aa63a">H<tspan font-size="14" dy="5">2</tspan><tspan dy="-5">O</tspan></text>
<text x="998" y="87" fill="#7a3b9e">OH<tspan font-size="14" dy="-9">-</tspan></text>
<text x="1066.5" y="121.8" fill="#ff8000">O<tspan font-size="14" dy="-9">2-</tspan></text>
<text x="1271.5" y="116" fill="#3aa63a">H<tspan font-size="14" dy="5">2</tspan><tspan dy="-5">O</tspan></text>
<text x="1379" y="84.3" fill="#ee1c25">OH<tspan font-size="14" dy="-9">-</tspan></text>
<text x="1451.5" y="123" fill="#2b7bbf">O<tspan font-size="14" dy="-9">2-</tspan></text>
</g>

<!-- tick labels XPS -->
<g font-size="18" fill="#000" text-anchor="middle">
<text x="76" y="548.5">870</text><text x="153.9" y="548.5">865</text><text x="231.75" y="548.5">860</text><text x="309.6" y="548.5">855</text><text x="387.5" y="548.5">850</text>
<text x="461" y="548.5">870</text><text x="538.9" y="548.5">865</text><text x="616.75" y="548.5">860</text><text x="694.6" y="548.5">855</text><text x="772.5" y="548.5">850</text>
<text x="868" y="548.5">536</text><text x="941" y="548.5">534</text><text x="1014" y="548.5">532</text><text x="1087" y="548.5">530</text><text x="1160" y="548.5">528</text>
<text x="1258" y="548.5">536</text><text x="1331.4" y="548.5">534</text><text x="1404.8" y="548.5">532</text><text x="1478.1" y="548.5">530</text><text x="1551.5" y="548.5">528</text>
</g>
<g font-size="24.5" fill="#000" text-anchor="middle">
<text x="231.75" y="583">Binding energy (eV)</text>
<text x="616.75" y="583">Binding energy (eV)</text>
<text x="1004.5" y="583">Binding energy (eV)</text>
<text x="1395.75" y="583">Binding energy (eV)</text>
<text transform="translate(58,298.8) rotate(-90)">Intensity (a.u.)</text>
<text transform="translate(443,313.3) rotate(-90)">Intensity (a.u.)</text>
<text transform="translate(829,283.3) rotate(-90)">Intensity (a.u.)</text>
<text transform="translate(1221,283.3) rotate(-90)">Intensity (a.u.)</text>
</g>

<!-- e/f labels -->
<g font-size="23" fill="#fff">
<text x="71" y="665">Top</text>
<text x="276" y="664.5">Front</text>
<text x="71" y="830.5">Left</text>
<text x="276" y="830">Perspective</text>
<text x="524.5" y="664">Top</text>
<text x="728.7" y="663">Front</text>
<text x="524" y="829">Left</text>
<text x="728" y="829">Perspective</text>
</g>
<g font-size="5" fill="#cccccc" font-family="Liberation Mono, monospace">
<text x="275" y="648.5">Front</text>
<text x="275" y="812">Perspective</text>
<text x="724" y="647.5">Front</text>
<text x="724" y="808.5">Perspective</text>
</g>

<!-- g labels -->
<g font-size="18.5" fill="#000">
<g text-anchor="end">
<text x="1002" y="698.7">0.04</text>
<text x="1002" y="800.4">0.03</text>
<text x="1002" y="902.1">0.02</text>
</g>
<g text-anchor="middle">
<text x="1013.8" y="974">0</text>
<text x="1147" y="974">500</text>
<text x="1280.1" y="974">1000</text>
<text x="1413.1" y="974">1500</text>
<text x="1546" y="974">2000</text>
</g>
</g>
<text x="1280" y="1010" font-size="25" text-anchor="middle" fill="#000">Time (fs)</text>
<text transform="translate(957,793) rotate(-90)" font-size="25" text-anchor="middle" fill="#000">Distance (Å)</text>
<g font-size="20" text-anchor="middle">
<text x="1288.7" y="710" fill="#2aa0e8">FNS</text>
<text x="1288" y="846" fill="#e8157a">FNS-SDS</text>
<text x="1144.4" y="937" fill="#1a1aee">Reconstruction</text>
<text x="1416.3" y="937" fill="#ee1a3a">Equilibrium</text>
</g>
</svg>
</body></html>
